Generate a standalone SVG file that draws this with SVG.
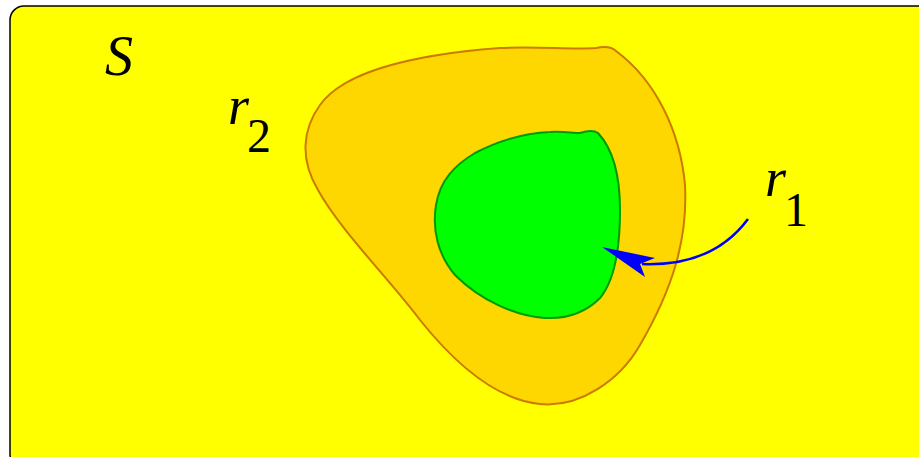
<svg xmlns="http://www.w3.org/2000/svg" width="919" height="457" viewBox="0 0 919 457">
<style>
text{font-family:"Liberation Serif","Times New Roman","DejaVu Serif",serif;fill:#000}
.it{font-style:italic}
</style>
<g id="S">
<rect x="10" y="6" width="930" height="462" rx="14" fill="#ffff00" stroke="#000" stroke-width="1.5"/>
<text class="it" x="105" y="75" font-size="56">S</text>
</g>
<g id="r2">
<path d="M500,48 C540,46 570,50 596,48 C605,46 612,47 616,51 C655,80 680,130 685,185 C688,240 672,290 640,345 C620,380 580,408 540,404 C500,400 460,370 420,320 C390,280 340,230 318,190 C300,160 302,130 320,105 C345,70 420,54 500,48 Z" fill="#ffd700" stroke="#cc7a00" stroke-width="2"/>
<text x="228" y="124" font-size="54"><tspan class="it">r</tspan><tspan dx="-2" dy="28" font-size="48">2</tspan></text>
</g>
<g id="r1">
<path d="M550,132 C562,131 572,133 580,133 C586,131 594,130 598,133 C612,148 620,175 620,210 C620,250 615,280 600,298 C585,313 565,319 545,318 C515,316 480,300 455,275 C438,255 432,230 436,205 C440,180 455,165 475,153 C500,140 525,133 550,132 Z" fill="#00ff00" stroke="#009900" stroke-width="2"/>
<text x="765" y="196" font-size="54"><tspan class="it">r</tspan><tspan dx="-2" dy="30" font-size="48">1</tspan></text>
</g>
<g id="connectors">
<path d="M748,219 C725,250 690,266 642,264" fill="none" stroke="#0000ff" stroke-width="2.5"/>
<path d="M602,247 L655,258 L640,264 L645,277 Z" fill="#0000ff"/>
</g>
</svg>
